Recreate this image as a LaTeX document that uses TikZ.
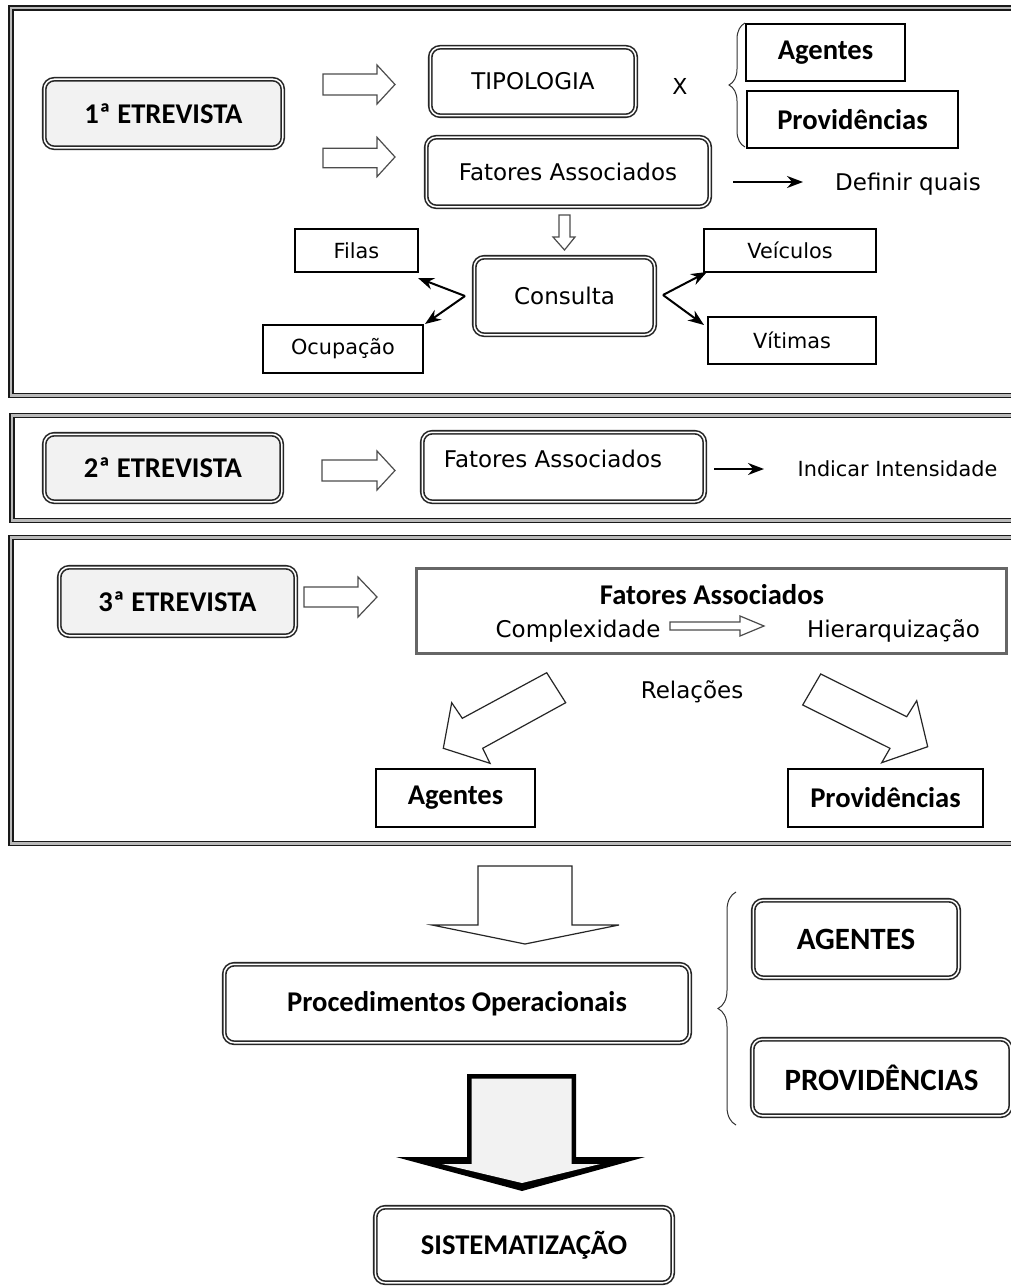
\documentclass[tikz,border=0pt]{standalone}
\usepackage{fontspec}
\setmainfont{Carlito}
\newfontfamily\dvfont{DejaVu Sans}
\usetikzlibrary{decorations.pathreplacing,arrows.meta}
\newcommand\bigb{\fontsize{28.6pt}{32pt}\selectfont\bfseries}
\newcommand\capb{\fontsize{31pt}{35pt}\selectfont\bfseries}
\newcommand\regA{\dvfont\fontsize{23pt}{27pt}\selectfont}
\newcommand\regB{\dvfont\fontsize{20.8pt}{24pt}\selectfont}
\tikzset{
  every node/.style={inner sep=0pt, outer sep=0pt},
  frame/.style={draw=black!90, line width=1.5pt, double=gray!55, double distance=2.5pt},
  dbox/.style={draw=black!85, line width=1.6pt, double=white, double distance=1.5pt, rounded corners=10pt},
  ebox/.style={dbox, fill=gray!10},
  sbox/.style={draw=black, line width=1.4pt},
  harrow/.style={draw=black!70, line width=1.2pt, fill=white, line join=miter},
  conn/.style={draw=black, line width=2pt, -{Stealth[length=16pt,width=12pt]}},
  brc/.style={draw=black!80, line width=1pt, decorate, decoration={brace, amplitude=16pt, aspect=0.5}}
}
\begin{document}
\begin{tikzpicture}[x=1pt,y=-1pt]
\useasboundingbox (0,0) rectangle (1011,1287);
\fill[white] (0,0) rectangle (1011,1287);
\clip (0,0) rectangle (1011,1287);
% frames
\draw[frame] (11,8) rectangle (1030,395.5);
\draw[frame] (12,415.5) rectangle (1030,520.5);
\draw[frame] (11,537.5) rectangle (1030,843.5);

% ---------- section 1
\node[ebox, minimum width=238.5pt, minimum height=68.5pt, font=\bigb] (e1) at (163.5,113.5) {1ª ETREVISTA};
\draw[harrow] (323,74) -- (377,74) -- (377,65) -- (395,84.5) -- (377,104) -- (377,95) -- (323,95) -- cycle;
\draw[harrow] (323,148.3) -- (377,148.3) -- (377,137.3) -- (395,157) -- (377,176.7) -- (377,167.7) -- (323,167.7) -- cycle;
\node[dbox, minimum width=205.5pt, minimum height=68.5pt, font=\regA] (tip) at (533,81.5) {TIPOLOGIA};
\node[dbox, minimum width=283.5pt, minimum height=69.5pt, font=\regA] (fa1) at (568,172) {Fatores Associados};
\node[font=\dvfont\fontsize{22pt}{26pt}\selectfont] (xx) at (680,86) {X};
\draw[brc] (745,147) -- (745,23);
\node[sbox, minimum width=159pt, minimum height=57pt, font=\bigb] (ag1) at (825.5,52.5) {Agentes};
\node[sbox, minimum width=211pt, minimum height=57pt, font=\bigb] (pr1) at (852.5,119.5) {Providências};
\coordinate (d0) at (733,182);
\coordinate (d1) at (803,182);
\draw[conn] (d0) -- (d1);
\node[font=\regA, anchor=base] (def) at (908,190) {Definir quais};
\draw[harrow] (559,215) -- (570,215) -- (570,237) -- (575,237) -- (564.5,250) -- (553,237) -- (559,237) -- cycle;
\node[dbox, minimum width=180.5pt, minimum height=77.5pt, font=\regA] (cons) at (564.5,296) {Consulta};
\node[sbox, minimum width=123pt, minimum height=43pt, font=\regB] (filas) at (356.5,250.5) {Filas};
\node[sbox, minimum width=160pt, minimum height=48pt, font=\regB] (ocup) at (343,349) {Ocupação};
\node[sbox, minimum width=172pt, minimum height=43pt, font=\regB] (veic) at (790,250.5) {Veículos};
\node[sbox, minimum width=168pt, minimum height=47pt, font=\regB] (vit) at (792,340.5) {Vítimas};
\coordinate (jl) at (465,296);
\coordinate (tf) at (418,278);
\coordinate (to) at (425,324);
\coordinate (jr) at (663,295);
\coordinate (tv) at (707,272);
\coordinate (tw) at (704,325);
\draw[conn] (jl) -- (tf);
\draw[conn] (jl) -- (to);
\draw[conn] (jr) -- (tv);
\draw[conn] (jr) -- (tw);

% ---------- section 2
\node[ebox, minimum width=237.5pt, minimum height=67.5pt, font=\bigb] (e2) at (163,468) {2ª ETREVISTA};
\draw[harrow] (322,460) -- (377,460) -- (377,451) -- (395,470.5) -- (377,490) -- (377,481) -- (322,481) -- cycle;
\node[dbox, minimum width=282.5pt, minimum height=69.5pt] (fa2) at (563.5,467) {};
\node[font=\regA] (fa2t) at (553,459) {Fatores Associados};
\coordinate (i0) at (714,469);
\coordinate (i1) at (764,469);
\draw[conn] (i0) -- (i1);
\node[font=\regB] (ind) at (897.5,469) {Indicar Intensidade};

% ---------- section 3
\node[ebox, minimum width=236.5pt, minimum height=68.5pt, font=\bigb] (e3) at (177.5,601.5) {3ª ETREVISTA};
\draw[harrow] (304,587) -- (358,587) -- (358,577) -- (377,597) -- (358,617) -- (358,607) -- (304,607) -- cycle;
\node[draw=black!60, line width=3pt, minimum width=590pt, minimum height=85pt] (fa3) at (711.5,611) {};
\node[font=\bigb, anchor=base] (fa3t) at (712,604) {Fatores Associados};
\node[font=\regA, anchor=base] (cx) at (578,637) {Complexidade};
\draw[harrow] (670,622) -- (740,622) -- (740,616) -- (764,626) -- (740,636) -- (740,630) -- (670,630) -- cycle;
\node[font=\regA, anchor=base] (hi) at (893.5,637) {Hierarquização};
\node[font=\regA, anchor=base] (rel) at (692,698) {Relações};
\draw[harrow, draw=black!85] (546.7,672.7) -- (565.7,702.7) -- (482.7,748.3) -- (490,763.3) -- (443.3,748.3) -- (451.7,702.7) -- (462.3,718.3) -- cycle;
\draw[harrow, draw=black!85] (820.7,674) -- (906.7,716.7) -- (916.7,700.7) -- (927.7,746.7) -- (881.7,762.7) -- (890,748.3) -- (802.7,705) -- cycle;
\node[sbox, minimum width=159pt, minimum height=58pt, font=\bigb] (ag3) at (455.5,798) {Agentes};
\node[sbox, minimum width=195pt, minimum height=58pt, font=\bigb] (pr3) at (885.5,798) {Providências};

% ---------- bottom
\draw[harrow, draw=black!85] (478,866) -- (572,866) -- (572,925) -- (619,925) -- (525,944) -- (432,925) -- (478,925) -- cycle;
\node[dbox, minimum width=465.5pt, minimum height=78.5pt, font=\bigb] (po) at (457,1003.5) {Procedimentos Operacionais};
\draw[brc, decoration={amplitude=18pt}] (736,1125) -- (736,892);
\node[dbox, minimum width=205.5pt, minimum height=77.5pt, font=\capb] (ag4) at (856,939) {AGENTES};
\node[dbox, minimum width=258.5pt, minimum height=76.5pt, font=\capb] (pr4) at (881.5,1077.5) {PROVIDÊNCIAS};
\fill[black] (467,1074) -- (576,1074) -- (576,1157) -- (645,1157) -- (522,1191) -- (396,1157) -- (467,1157) -- cycle;
\fill[gray!10] (471.5,1078.5) -- (571.5,1078.5) -- (571.5,1164) -- (600,1164) -- (522,1183) -- (442,1164) -- (471.5,1164) -- cycle;
\node[dbox, minimum width=297.5pt, minimum height=75.5pt, font=\bigb] (sis) at (524,1245) {SISTEMATIZAÇÃO};
\end{tikzpicture}
\end{document}
